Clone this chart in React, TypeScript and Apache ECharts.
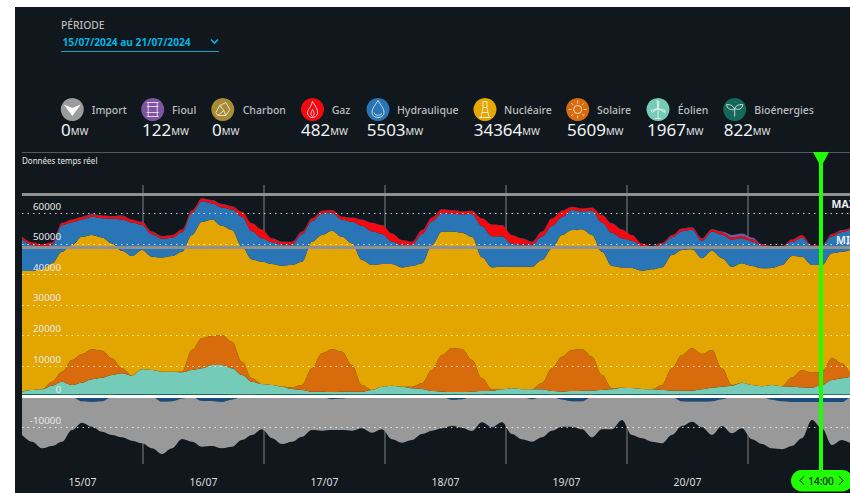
import React, { useEffect, useRef } from "react";
import * as echarts from "echarts";

const FONT = '"Noto Sans", sans-serif';

// upper edge of each stacked layer, in MW, one reading per 119 minutes (last reading at the right edge)
const totalTop = [
  52320,50500,49830,50500,56900,58000,58900,59750,59300,59100,
  59300,58000,57200,54000,52550,52900,54700,61000,64900,64300,
  63000,62300,60500,56700,54700,51800,50700,50700,54000,58350,
  60850,61050,58900,58650,58000,56900,56150,53400,51250,50700,
  54500,58650,61300,61050,60700,60850,58350,56350,56150,52900,
  51800,50700,54000,58350,60850,62150,61600,61900,59400,56700,
  54700,52900,50150,49300,50350,52900,55050,55400,51800,54850,
  54000,52900,53400,52100,49950,49300,49300,51450,52900,49600,
  49600,53200,54500,55200];
const nuclearTop = [
  41100,41100,41650,43650,47400,49600,52300,52900,52100,50150,
  47700,46000,48000,45800,45500,46000,47400,52900,57200,58000,
  55900,54500,49050,44900,44150,43400,42850,43050,44150,50700,
  52900,54300,52300,50150,44700,43050,43400,43400,42300,42750,
  43650,49600,54000,54000,53650,52300,45600,42300,42500,42500,
  42500,42500,44700,48500,52900,54500,54750,52900,47400,42750,
  42300,42100,41200,41650,42300,46350,48000,48200,45300,47750,
  45300,42500,43650,42750,42000,42100,43050,46000,45800,43050,
  43050,46900,47400,48000];
const solarTop = [
  1640,2190,2420,4900,8180,12000,13960,15500,15050,12550,
  9290,6870,8960,8730,8180,8180,8180,15270,19200,19850,
  20200,18000,11450,6000,4150,3830,3270,3070,3800,9290,
  14200,15500,14720,10370,3800,2190,3270,3600,3270,3270,
  4380,8730,13640,15930,15600,12000,6020,2420,2420,2750,
  2420,2420,4480,9290,13080,15270,15600,13080,7100,2750,
  2950,2850,2520,2420,3830,9290,13640,15830,14000,15270,
  9290,3830,4580,3830,3400,3830,3400,6340,8730,7850,
  8180,12560,10920,7650];
const windTop = [
  1640,2190,2420,3600,4900,3830,4580,5690,6220,7100,
  7650,6870,8960,8730,8180,8180,7980,8730,9290,10370,
  10370,9290,7100,4900,4150,3830,3270,2520,2190,1640,
  1640,1500,1640,1640,1640,2190,3270,3600,3270,2750,
  2520,1860,1640,1500,1500,1640,1860,1970,2420,2750,
  2420,2420,2420,1860,1640,1860,1970,1970,2190,2420,
  2950,2850,2520,2420,2190,1970,1970,1970,2420,2950,
  3270,3600,4580,3830,3400,3830,3400,3270,3050,2950,
  3830,5460,6020,6540];
const bioValues = [
  850,850,840,840,830,830,820,820,830,830,
  840,840,850,850,850,860,860,850,850,840,
  840,830,830,830,840,840,850,860,860,850,
  840,830,830,820,820,830,840,850,860,860,
  850,840,830,820,820,820,830,840,850,860,
  860,850,840,830,820,820,820,830,840,850,
  860,860,850,840,830,820,820,820,830,840,
  840,850,860,860,850,840,830,820,820,820,
  820,820,820,820];
const gasValues = [
  700,700,700,700,700,800,800,800,800,800,
  1000,900,900,800,800,800,800,800,900,1000,
  1000,1000,1500,2500,2800,1200,900,900,800,800,
  800,800,900,1300,2000,2700,2800,2500,1500,1000,
  1200,1200,1200,1000,900,1000,2400,3800,3600,2800,
  2000,900,1500,2400,2000,1000,900,1000,2300,3000,
  2800,1800,700,300,500,600,800,700,700,700,
  700,700,700,700,300,200,200,700,800,200,
  200,600,500,480];
const oilValues = [
  100,100,100,100,100,100,100,120,120,120,
  300,120,100,100,100,100,100,100,100,100,
  100,100,100,100,100,100,100,100,100,100,
  100,100,100,100,100,100,100,100,100,100,
  100,100,100,100,100,100,100,100,100,100,
  100,100,100,100,100,100,100,100,100,100,
  100,100,100,100,100,100,100,100,100,100,
  300,800,900,600,100,100,100,100,100,100,
  120,120,120,120];
// below zero: pumping depth and lower edge of the exports (MW)
const pumpDepth = [
  0,0,0,0,0,0,1500,1700,1500,0,
  0,0,0,0,1600,1500,600,0,1400,1400,
  1700,900,0,0,0,0,0,0,0,0,
  0,800,600,0,0,0,0,0,0,0,
  0,0,0,1000,800,0,0,0,0,0,
  0,800,0,0,900,1500,1500,0,0,0,
  0,0,0,0,0,0,1500,1600,1600,1500,
  800,0,0,0,0,1000,1500,1700,1700,1700,
  1700,1700,1700,0];
const exportBottom = [
  -12530,-14720,-16880,-16130,-14720,-10890,-8500,-9810,-11450,-12530,
  -13280,-14390,-15240,-16880,-18740,-16880,-13840,-14720,-16350,-16130,
  -16880,-16350,-14160,-12530,-10660,-13570,-15470,-14720,-13080,-10890,
  -11120,-10890,-10890,-11120,-10340,-11780,-10660,-13930,-15050,-14160,
  -12200,-11120,-10340,-9480,-10140,-11230,-8400,-10010,-8400,-12200,
  -13930,-14720,-13280,-11120,-9810,-9810,-10660,-13280,-10660,-10660,
  -7620,-12530,-13610,-14720,-15240,-12530,-9590,-8180,-10010,-12530,
  -9590,-11970,-10340,-13930,-15470,-16880,-17210,-16130,-13610,-7620,
  -10340,-15800,-14160,-15150];

const START = Date.UTC(2024, 6, 15);
const END_MINUTES = 9854;
const sampleMinutes = totalTop.map((_, i) => (i === totalTop.length - 1 ? END_MINUTES : i * 119));
const dayLabels = ["15/07", "16/07", "17/07", "18/07", "19/07", "20/07"];
const dayBoundaries = [1440, 2880, 4320, 5760, 7200, 8640];
const yTickLabels = ["60000", "50000", "40000", "30000", "20000", "10000", "0", "-10000"];
const dottedValues = [60000, 50000, 40000, 30000, 20000, 10000, -10000];
const MAX_VALUE = 66100;
const MIN_VALUE = 48960;

const legendNames = ["Import", "Fioul", "Charbon", "Gaz", "Hydraulique", "Nucléaire", "Solaire", "Éolien", "Bioénergies"];
const legendValues = ["0", "122", "0", "482", "5503", "34364", "5609", "1967", "822"];
const legendColors = ["#9c9c9c", "#7f55a3", "#a98a35", "#f40a0e", "#2a75b5", "#e5a800", "#d86c0d", "#74ccb8", "#16695a"];
const legendCircleX = [72.3, 152.7, 222.8, 312.5, 378, 485, 577.7, 658, 734.7];
const legendLabelX = [91.7, 172, 242.7, 331.7, 397, 504, 597, 677.7, 754.3];
const legendValueX = [61, 142, 212, 301, 366.7, 473.7, 567, 647, 723.7];

const ICONS: string[] = [
  "M-8.5,-5 L0,-1.5 L8.5,-5 L0,6.5 Z",
  "M-6,-7 H6 M-6,-3 H6 M-6,3 H6 M-6,7 H6 M-4.5,-7 V7 M4.5,-7 V7",
  "M-7,3 L-3,-4 L3,-7 L7,0 L3,6 L-5,6 Z M-3,-4 L1,1 L3,6 M1,1 L-5,6",
  "M0,-8 C3,-3 5.5,0 5,4 C4,7 2,8 0,8 C-3,8 -5,6 -5,3 C-5,0 -2,-1 0,-8 Z M0,0 C2,3 2,6 0,7 C-2,6 -2,3 0,0 Z",
  "M0,-9 C3,-4 6,-1 6,3 C6,6 3,8 0,8 C-3,8 -6,6 -6,3 C-6,-1 -3,-4 0,-9 Z M-4,3 C-3,6 1,7 4,4",
  "M-2,-8 H2 V-2 H-2 Z M-4,8 L-2,-2 M4,8 L2,-2 M-6,8 H6 M-3,3 H3",
  "M-4,0 A4,4 0 1 1 4,0 A4,4 0 1 1 -4,0 Z M0,-9 V-6 M0,6 V9 M-9,0 H-6 M6,0 H9 M-6.4,-6.4 L-4.3,-4.3 M6.4,-6.4 L4.3,-4.3 M-6.4,6.4 L-4.3,4.3 M6.4,6.4 L4.3,4.3",
  "M0,-1 L0,9 M-3,9 H3 M0,-1 L-1,-9 L1,-8 Z M0,-1 L7,3 L7,1 Z M0,-1 L-6,3 L-7,1 Z",
  "M0,7 V0 M0,0 C-1,-4 -5,-5 -8,-5 C-8,-1 -4,1 0,0 M0,-1 C1,-4 4,-5 8,-5 C8,-1 4,1 0,-1",
];

const diff = (a: number[], b: number[]) => a.map((v, i) => v - b[i]);

export default function App() {
  const ref = useRef<HTMLDivElement>(null);
  useEffect(() => {
    document.body.style.margin = "0";
    ICONS.forEach((d, i) => {
      echarts.graphic.registerShape("icon" + i, echarts.graphic.extendPath(d, {}));
    });
    const chart = echarts.init(ref.current!, null, { renderer: "svg" });

    const hydroValues = totalTop.map((v, i) => v - gasValues[i] - oilValues[i] - nuclearTop[i]);
    const nuclearValues = diff(nuclearTop, solarTop);
    const solarValues = diff(solarTop, windTop);
    const windValues = diff(windTop, bioValues);
    const exportValues = exportBottom.map((v, i) => v + pumpDepth[i]);

    const area = (name: string, values: number[], color: string, stack: string) => ({
      name,
      type: "line",
      stack,
      xAxisIndex: 0,
      data: values.map((v, i) => [START + sampleMinutes[i] * 60000, v]),
      showSymbol: false,
      symbol: "none",
      smooth: 0.35,
      smoothMonotone: "x",
      lineStyle: { width: 0 },
      areaStyle: { color, opacity: 1 },
      z: 2,
      silent: true,
    });

    const ml = (data: any[], lineStyle: any, z: number) => ({
      silent: true,
      symbol: "none",
      z,
      label: { show: false },
      lineStyle,
      data,
      animation: false,
    });

    const guide = (name: string, markLine: any) => ({
      type: "line",
      name,
      xAxisIndex: 1,
      data: [[0, 0]],
      showSymbol: false,
      lineStyle: { width: 0 },
      silent: true,
      markLine,
    });

    const graphic: any[] = [
      { type: "rect", z: -10, shape: { x: 15, y: 7, width: 835, height: 486 }, style: { fill: "#10181e" } },
      { type: "text", x: 61, y: 25, style: { text: "PÉRIODE", fill: "#bdbdbd", font: `500 10.3px ${FONT}`, verticalAlign: "middle" } },
      { type: "text", x: 62.5, y: 42, style: { text: "15/07/2024 au 21/07/2024", fill: "#00b4e0", font: `700 10.2px ${FONT}`, verticalAlign: "middle" } },
      { type: "polyline", shape: { points: [[211, 39.5], [214.5, 43], [218, 39.5]] }, style: { stroke: "#00b4e0", fill: "none", lineWidth: 1.6 } },
      { type: "line", shape: { x1: 61, y1: 51.5, x2: 219, y2: 51.5 }, style: { stroke: "#13a3c8", lineWidth: 1 } },
      { type: "line", shape: { x1: 22, y1: 152.5, x2: 850, y2: 152.5 }, style: { stroke: "#555a5e", lineWidth: 1.2 } },
      { type: "text", x: 22, y: 160, style: { text: "Données temps réel", fill: "#e6e6e6", font: `400 8px ${FONT}`, verticalAlign: "middle" } },
      { type: "text", x: 831.5, y: 204, z: 20, style: { text: "MAX", fill: "#eeeeee", font: `700 10.5px ${FONT}`, verticalAlign: "middle" } },
      { type: "text", x: 836, y: 240, z: 20, style: { text: "MIN", fill: "#eeeeee", font: `700 10.5px ${FONT}`, verticalAlign: "middle" } },
      { type: "line", z: 30, shape: { x1: 821, y1: 160, x2: 821, y2: 472 }, style: { stroke: "#1fff00", lineWidth: 4 } },
      { type: "polygon", z: 30, shape: { points: [[813, 152], [829, 152], [821, 167]] }, style: { fill: "#1fff00" } },
      { type: "rect", z: 30, shape: { x: 791, y: 470, width: 62, height: 21.5, r: 10.7 }, style: { fill: "#1fff00" } },
      { type: "text", z: 31, x: 821, y: 480.5, style: { text: "14:00", fill: "#10181e", font: `500 10px ${FONT}`, align: "center", verticalAlign: "middle" } },
      { type: "polyline", z: 31, shape: { points: [[804, 476], [800, 480.5], [804, 485]] }, style: { stroke: "#10181e", fill: "none", lineWidth: 1 } },
      { type: "polyline", z: 31, shape: { points: [[839, 476], [843, 480.5], [839, 485]] }, style: { stroke: "#10181e", fill: "none", lineWidth: 1 } },
    ];

    legendNames.forEach((name, i) => {
      const cx = legendCircleX[i];
      graphic.push({ type: "circle", shape: { cx, cy: 109.5, r: 11.5 }, style: { fill: legendColors[i] } });
      graphic.push({
        type: "icon" + i,
        x: cx,
        y: 109.5,
        style: i === 0 ? { fill: "#ffffff" } : { fill: "none", stroke: "#f4f4f4", lineWidth: 0.8 },
      });
      graphic.push({ type: "text", x: legendLabelX[i], y: 109.5, style: { text: name, fill: "#bdbdbd", font: `500 10.5px ${FONT}`, verticalAlign: "middle" } });
      graphic.push({
        type: "text",
        x: legendValueX[i],
        y: 129,
        style: {
          text: `{v|${legendValues[i]}}{u|MW}`,
          verticalAlign: "middle",
          rich: {
            v: { fill: "#f2f2f2", font: `400 17px ${FONT}`, verticalAlign: "bottom" },
            u: { fill: "#d8d8d8", font: `500 9.5px ${FONT}`, verticalAlign: "bottom", padding: [0, 0, 1, 0] },
          },
        },
      });
    });

    const option: any = {
      animation: false,
      backgroundColor: "transparent",
      grid: { left: 22, right: 0, top: 182.7, height: 305.7 },
      xAxis: [
        {
          type: "time",
          min: START,
          max: START + END_MINUTES * 60000,
          show: false,
        },
        {
          type: "value",
          min: 0,
          max: END_MINUTES,
          interval: 720,
          position: "bottom",
          axisLine: { show: false },
          axisTick: { show: false },
          splitLine: { show: false },
          axisLabel: {
            inside: true,
            margin: 1,
            color: "#dcdcdc",
            fontSize: 10.5,
            fontFamily: FONT,
            showMinLabel: false,
            showMaxLabel: false,
            formatter: (v: number) => (v % 1440 === 720 ? dayLabels[(v - 720) / 1440] ?? "" : ""),
          },
        },
      ],
      yAxis: {
        type: "value",
        min: -30000,
        max: 70000,
        interval: 10000,
        z: 6,
        axisLine: { show: false },
        axisTick: { show: false },
        splitLine: { show: false },
        axisLabel: {
          inside: true,
          margin: 39,
          align: "right",
          verticalAlign: "bottom",
          padding: [0, 0, 2, 0],
          color: "#e8e8e8",
          fontSize: 9.8,
          fontFamily: FONT,
          formatter: (v: number) => (yTickLabels.includes(String(v)) ? String(v) : ""),
        },
      },
      series: [
        area("Bioénergies", bioValues, "#16695a", "prod"),
        area("Éolien", windValues, "#74ccb8", "prod"),
        area("Solaire", solarValues, "#d86c0d", "prod"),
        area("Nucléaire", nuclearValues, "#e3a600", "prod"),
        area("Hydraulique", hydroValues, "#2a75b5", "prod"),
        area("Gaz", gasValues, "#f40a0e", "prod"),
        area("Fioul", oilValues, "#7f55a3", "prod"),
        area("Pompage", pumpDepth.map((v) => -v), "#164d7d", "neg"),
        area("Export", exportValues, "#999999", "neg"),
        guide("repères", ml(
          dayBoundaries.map((x) => [{ coord: [x, 69240] }, { coord: [x, -22010] }]),
          { color: "#5a5f63", width: 1.5, type: "solid" },
          1
        )),
        guide("pointillés", ml(
          dottedValues.map((v) => ({ yAxis: v })),
          { color: "rgba(255,255,255,0.75)", width: 1, type: [1.5, 4] },
          5
        )),
        guide("limites", ml(
          [{ yAxis: MAX_VALUE }, { yAxis: MIN_VALUE }],
          { color: "#909090", width: 3, type: "solid", opacity: 1 },
          6
        )),
        guide("zéro", ml([{ yAxis: 0 }], { color: "#ffffff", width: 3, type: "solid", opacity: 1 }, 6)),
      ],
      graphic,
    };
    chart.setOption(option);
    return () => chart.dispose();
  }, []);
  return <div ref={ref} style={{ width: 850, height: 493, background: "#ffffff" }} />;
}
